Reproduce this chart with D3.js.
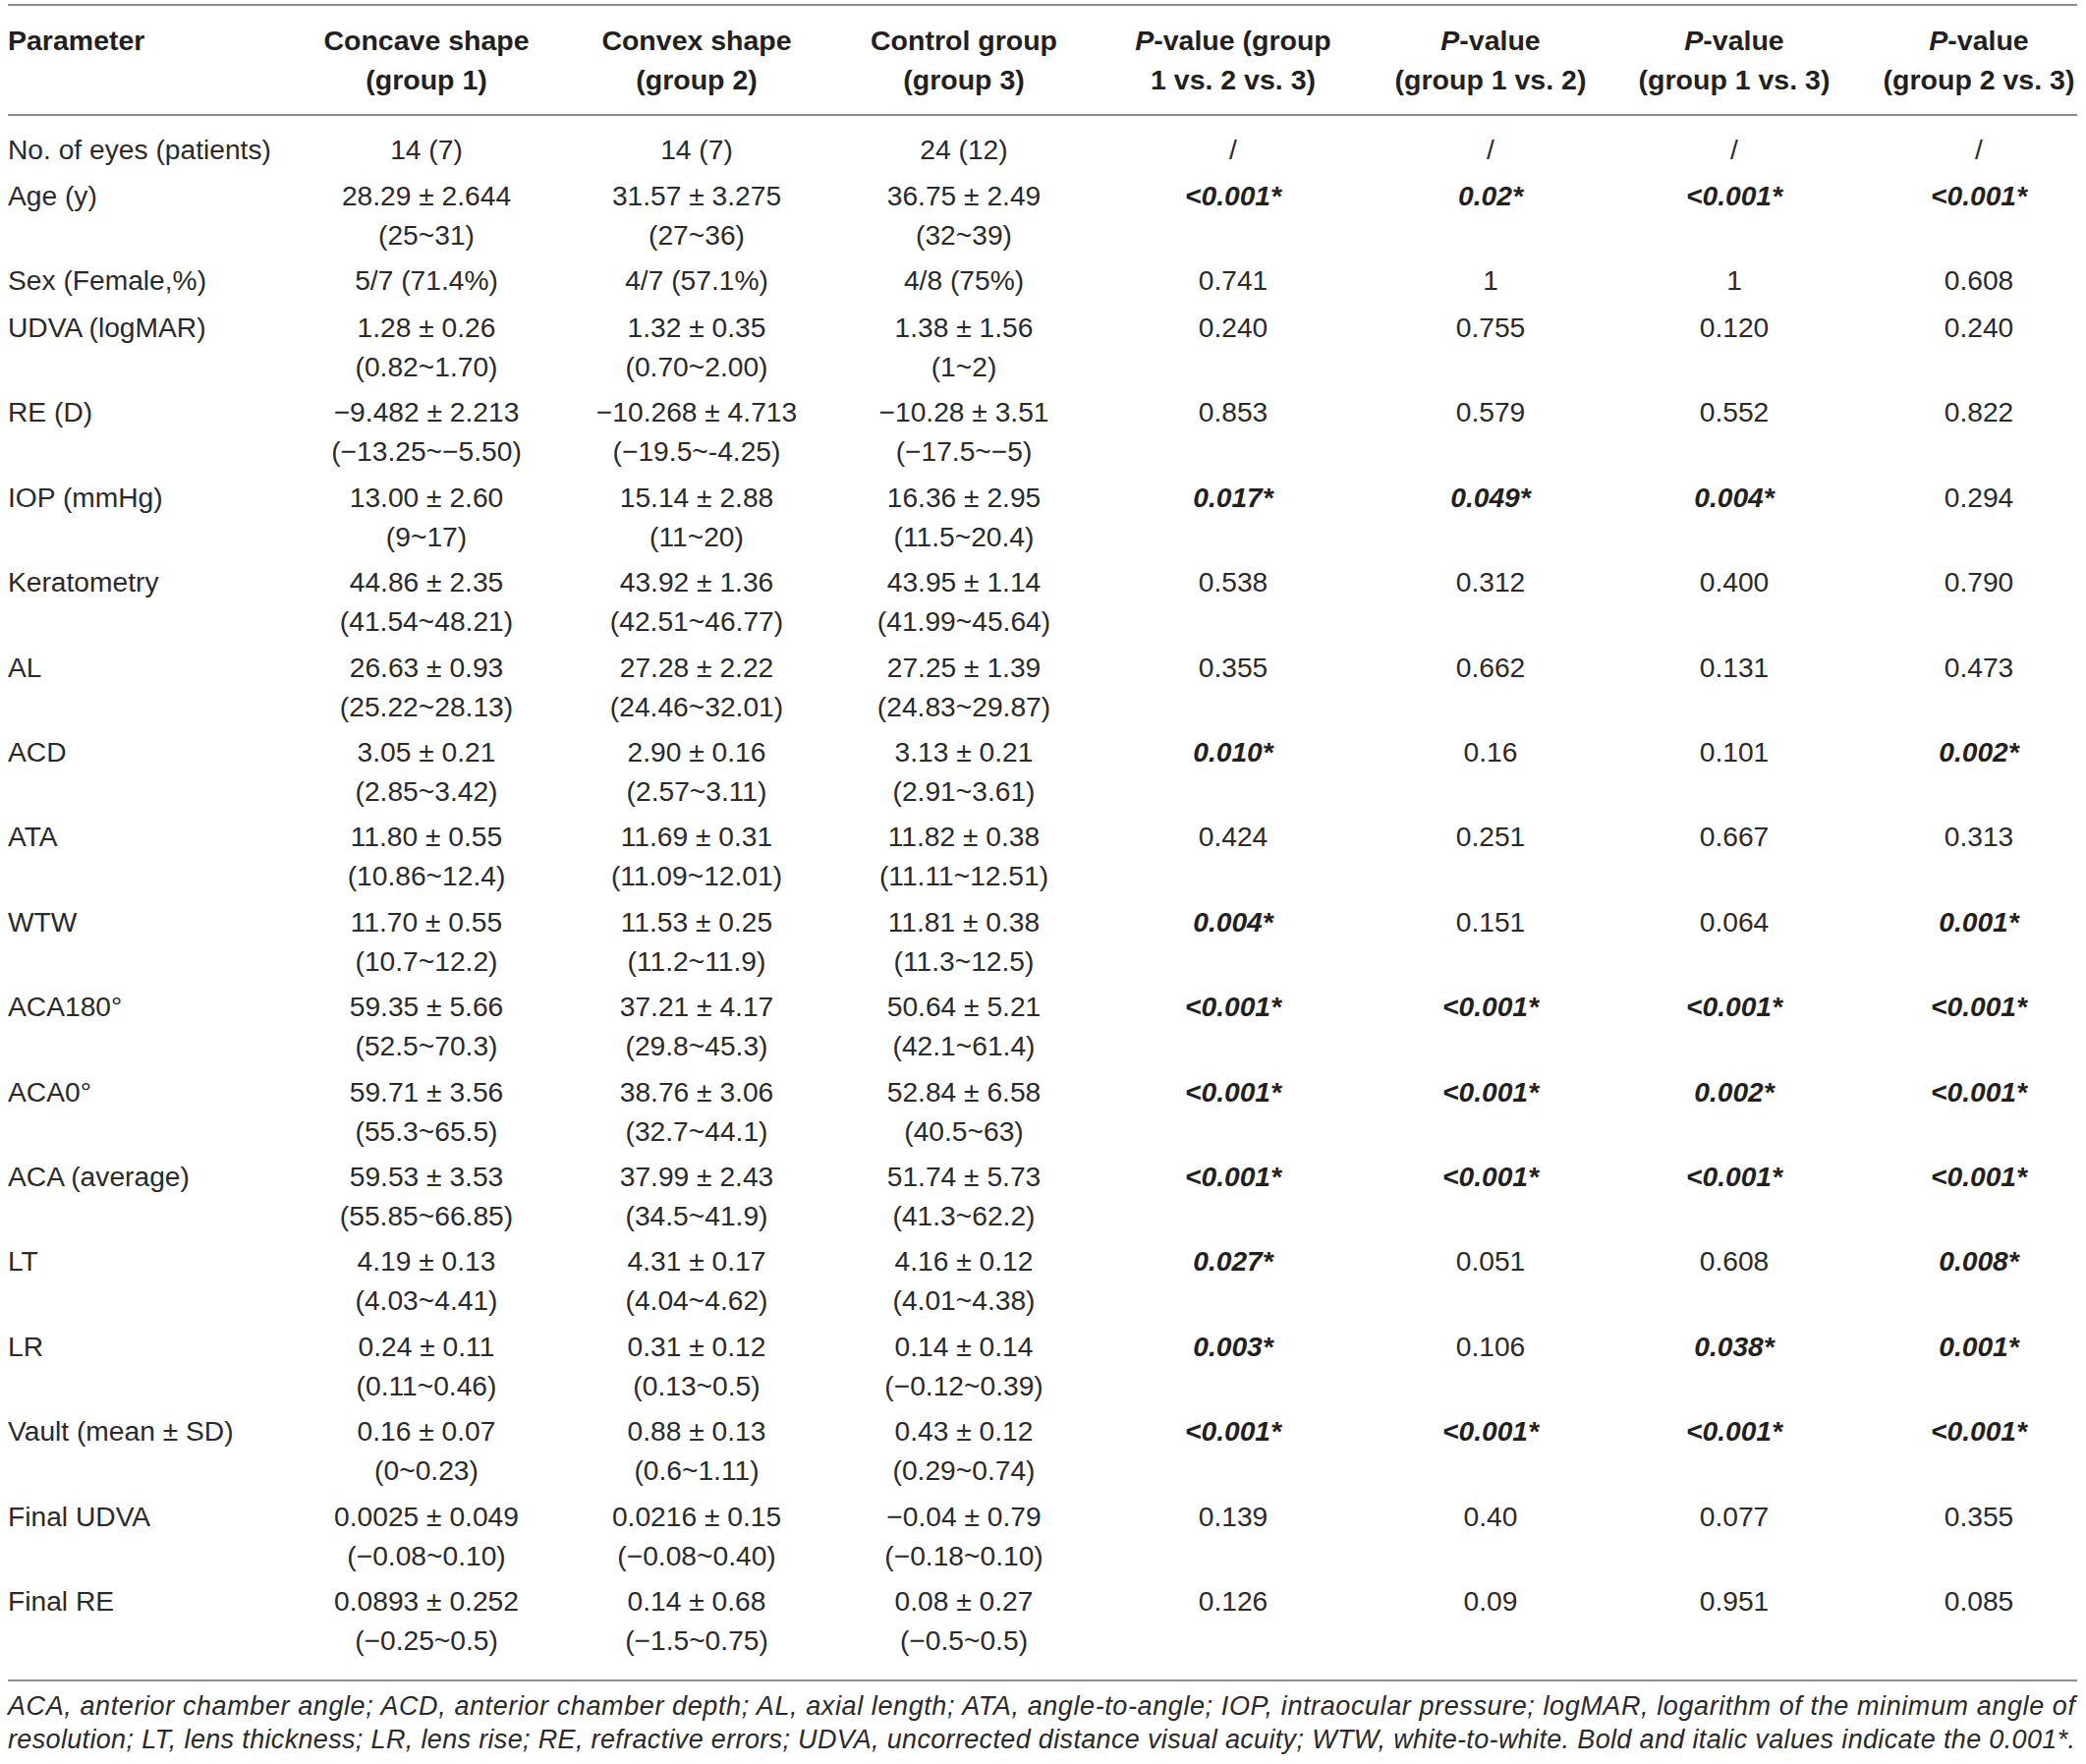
<!DOCTYPE html>
<html><head><meta charset="utf-8">
<script src="https://cdn.jsdelivr.net/npm/d3@7"></script>
<style>html,body{margin:0;padding:0;background:#fff;} svg{display:block;}</style>
</head><body><div id="chart"></div>
<script>
// ---------- DATA ----------
const headers = [
  ["Parameter"],
  ["Concave shape", "(group 1)"],
  ["Convex shape", "(group 2)"],
  ["Control group", "(group 3)"],
  ["P-value (group", "1 vs. 2 vs. 3)"],
  ["P-value", "(group 1 vs. 2)"],
  ["P-value", "(group 1 vs. 3)"],
  ["P-value", "(group 2 vs. 3)"]
];
const parameters = ["No. of eyes (patients)","Age (y)","Sex (Female,%)","UDVA (logMAR)","RE (D)","IOP (mmHg)","Keratometry","AL","ACD","ATA","WTW","ACA180°","ACA0°","ACA (average)","LT","LR","Vault (mean ± SD)","Final UDVA","Final RE"];
const group1 = ["14 (7)","28.29 ± 2.644","5/7 (71.4%)","1.28 ± 0.26","−9.482 ± 2.213","13.00 ± 2.60","44.86 ± 2.35","26.63 ± 0.93","3.05 ± 0.21","11.80 ± 0.55","11.70 ± 0.55","59.35 ± 5.66","59.71 ± 3.56","59.53 ± 3.53","4.19 ± 0.13","0.24 ± 0.11","0.16 ± 0.07","0.0025 ± 0.049","0.0893 ± 0.252"];
const group1Range = ["","(25~31)","","(0.82~1.70)","(−13.25~−5.50)","(9~17)","(41.54~48.21)","(25.22~28.13)","(2.85~3.42)","(10.86~12.4)","(10.7~12.2)","(52.5~70.3)","(55.3~65.5)","(55.85~66.85)","(4.03~4.41)","(0.11~0.46)","(0~0.23)","(−0.08~0.10)","(−0.25~0.5)"];
const group2 = ["14 (7)","31.57 ± 3.275","4/7 (57.1%)","1.32 ± 0.35","−10.268 ± 4.713","15.14 ± 2.88","43.92 ± 1.36","27.28 ± 2.22","2.90 ± 0.16","11.69 ± 0.31","11.53 ± 0.25","37.21 ± 4.17","38.76 ± 3.06","37.99 ± 2.43","4.31 ± 0.17","0.31 ± 0.12","0.88 ± 0.13","0.0216 ± 0.15","0.14 ± 0.68"];
const group2Range = ["","(27~36)","","(0.70~2.00)","(−19.5~-4.25)","(11~20)","(42.51~46.77)","(24.46~32.01)","(2.57~3.11)","(11.09~12.01)","(11.2~11.9)","(29.8~45.3)","(32.7~44.1)","(34.5~41.9)","(4.04~4.62)","(0.13~0.5)","(0.6~1.11)","(−0.08~0.40)","(−1.5~0.75)"];
const group3 = ["24 (12)","36.75 ± 2.49","4/8 (75%)","1.38 ± 1.56","−10.28 ± 3.51","16.36 ± 2.95","43.95 ± 1.14","27.25 ± 1.39","3.13 ± 0.21","11.82 ± 0.38","11.81 ± 0.38","50.64 ± 5.21","52.84 ± 6.58","51.74 ± 5.73","4.16 ± 0.12","0.14 ± 0.14","0.43 ± 0.12","−0.04 ± 0.79","0.08 ± 0.27"];
const group3Range = ["","(32~39)","","(1~2)","(−17.5~−5)","(11.5~20.4)","(41.99~45.64)","(24.83~29.87)","(2.91~3.61)","(11.11~12.51)","(11.3~12.5)","(42.1~61.4)","(40.5~63)","(41.3~62.2)","(4.01~4.38)","(−0.12~0.39)","(0.29~0.74)","(−0.18~0.10)","(−0.5~0.5)"];
const pAll = ["/","<0.001*","0.741","0.240","0.853","0.017*","0.538","0.355","0.010*","0.424","0.004*","<0.001*","<0.001*","<0.001*","0.027*","0.003*","<0.001*","0.139","0.126"];
const p12  = ["/","0.02*","1","0.755","0.579","0.049*","0.312","0.662","0.16","0.251","0.151","<0.001*","<0.001*","<0.001*","0.051","0.106","<0.001*","0.40","0.09"];
const p13  = ["/","<0.001*","1","0.120","0.552","0.004*","0.400","0.131","0.101","0.667","0.064","<0.001*","0.002*","<0.001*","0.608","0.038*","<0.001*","0.077","0.951"];
const p23  = ["/","<0.001*","0.608","0.240","0.822","0.294","0.790","0.473","0.002*","0.313","0.001*","<0.001*","<0.001*","<0.001*","0.008*","0.001*","<0.001*","0.355","0.085"];
const footnote = [
  "ACA, anterior chamber angle; ACD, anterior chamber depth; AL, axial length; ATA, angle-to-angle; IOP, intraocular pressure; logMAR, logarithm of the minimum angle of",
  "resolution; LT, lens thickness; LR, lens rise; RE, refractive errors; UDVA, uncorrected distance visual acuity; WTW, white-to-white. Bold and italic values indicate the 0.001*."
];

// ---------- LAYOUT ----------
const W = 2123, H = 1795;
const FONT = "'Liberation Sans', Arial, Helvetica, sans-serif";
const TEXT = "#231f20";
const BODY = "#2a2a2a";
const FS = 28.2;
const svg = d3.select("#chart").append("svg").attr("width", W).attr("height", H)
  .style("font-family", FONT);
svg.append("rect").attr("width", W).attr("height", H).attr("fill", "#fff");

const x = d3.scaleOrdinal().domain(d3.range(8)).range([8, 434, 709, 981, 1255, 1517, 1765, 2014]);
const anchorOf = c => c === 0 ? "start" : "middle";

// rules
const ruleX0 = 8, ruleX1 = 2114;
[5, 117, 1710].forEach(y => {
  svg.append("line").attr("x1", ruleX0).attr("x2", ruleX1).attr("y1", y).attr("y2", y)
    .attr("stroke", "#8f8f8f").attr("stroke-width", 2);
});

// header
const hdr = svg.append("g").attr("font-weight", "bold").attr("font-size", 28.5).attr("fill", TEXT);
headers.forEach((lines, c) => {
  lines.forEach((ln, k) => {
    const t = hdr.append("text").attr("x", x(c)).attr("y", 51 + k * 40).attr("text-anchor", anchorOf(c));
    if (ln.startsWith("P-value")) {
      t.append("tspan").attr("font-style", "italic").text("P");
      t.append("tspan").text(ln.slice(1));
    } else t.text(ln);
  });
});

// body rows
const rowY = [];
let yb = 161.5;
parameters.forEach((p, i) => {
  rowY.push(yb);
  yb += group1Range[i] !== "" ? 86.4 : 47.5;
});
const LINE = 40;
const body = svg.append("g").attr("font-size", FS).attr("fill", BODY);
const rows = parameters.map((p, i) => ({
  i,
  cells: [[p], [group1[i], group1Range[i]], [group2[i], group2Range[i]], [group3[i], group3Range[i]],
          [pAll[i]], [p12[i]], [p13[i]], [p23[i]]]
}));
const rowG = body.selectAll("g.row").data(rows).join("g").attr("class", "row");
rowG.each(function(r) {
  const g = d3.select(this);
  r.cells.forEach((lines, c) => {
    lines.forEach((ln, k) => {
      if (!ln) return;
      const t = g.append("text").attr("x", x(c)).attr("y", rowY[r.i] + k * LINE)
        .attr("text-anchor", anchorOf(c)).text(ln);
      if (c >= 4 && ln.includes("*")) t.attr("font-weight", "bold").attr("font-style", "italic").attr("fill", TEXT);
    });
  });
});

// footnote
const fn = svg.append("g").attr("font-size", 27).attr("font-style", "italic").attr("fill", BODY);
footnote.forEach((ln, k) => {
  fn.append("text").attr("x", 8).attr("y", 1745 + k * 33.5)
    .attr("textLength", 2104).attr("lengthAdjust", "spacing").text(ln);
});
</script>
</body></html>
